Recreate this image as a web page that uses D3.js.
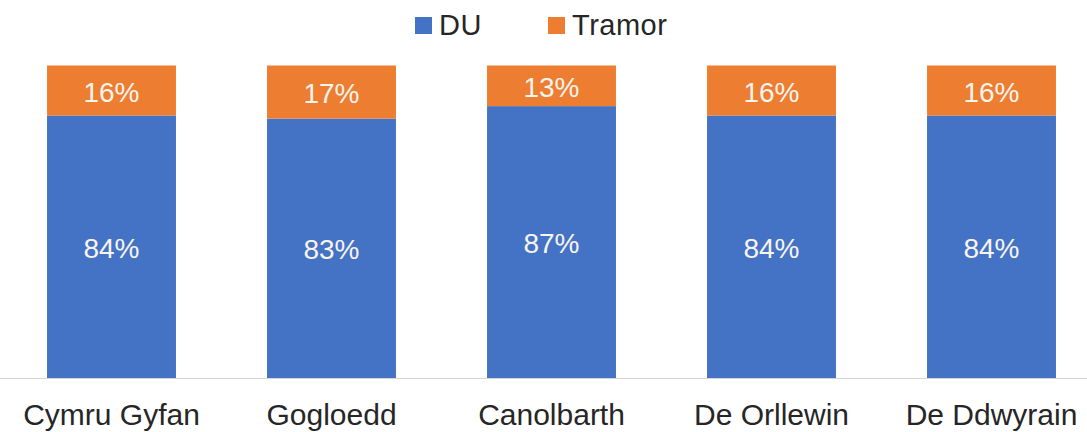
<!DOCTYPE html>
<html>
<head>
<meta charset="utf-8">
<script src="https://cdn.jsdelivr.net/npm/d3@7"></script>
<style>
  html, body { margin: 0; padding: 0; background: #fff; }
  svg { display: block; font-family: "Liberation Sans", Arial, sans-serif; }
</style>
</head>
<body>
<div id="chart"></div>
<script>
// Chart data
const categories = ["Cymru Gyfan", "Gogloedd", "Canolbarth", "De Orllewin", "De Ddwyrain"];
const seriesNames = ["DU", "Tramor"];
const duValues = [84, 83, 87, 84, 84];
const tramorValues = [16, 17, 13, 16, 16];
const colors = ["#4472C4", "#ED7D31"];

const W = 1087, H = 432;
const plot = { left: 1.5, right: 1101.5, top: 65.5, bottom: 378 };

const svg = d3.select("#chart").append("svg")
    .attr("width", W).attr("height", H);

const rows = categories.map((c, i) => ({ cat: c, DU: duValues[i], Tramor: tramorValues[i] }));
const stacked = d3.stack().keys(seriesNames)(rows);

const x = d3.scaleBand()
    .domain(categories)
    .range([plot.left, plot.right])
    .paddingInner(0.414)
    .paddingOuter(0.207);

const y = d3.scaleLinear()
    .domain([0, 100])
    .range([plot.bottom, plot.top]);

// Bars
stacked.forEach((layer, si) => {
    svg.append("g").selectAll("rect")
        .data(layer)
        .join("rect")
        .attr("x", d => x(d.data.cat))
        .attr("width", x.bandwidth())
        .attr("y", d => y(d[1]))
        .attr("height", d => y(d[0]) - y(d[1]))
        .attr("fill", colors[si]);

    // value labels
    svg.append("g").selectAll("text")
        .data(layer)
        .join("text")
        .attr("x", d => x(d.data.cat) + x.bandwidth() / 2)
        .attr("y", d => (y(d[0]) + y(d[1])) / 2 + 11)
        .attr("text-anchor", "middle")
        .attr("fill", "#f8f4ee")
        .attr("font-size", "28px")
        .text(d => (d[1] - d[0]) + "%");
});

// Category axis
const xAxis = svg.append("g")
    .attr("transform", `translate(0,${plot.bottom})`)
    .call(d3.axisBottom(x).tickSize(0).tickPadding(26));
xAxis.select(".domain").remove();
xAxis.selectAll("text")
    .attr("font-size", "30px")
    .attr("fill", "#262626")
    .attr("font-family", "Liberation Sans, Arial, sans-serif");

svg.append("line")
    .attr("x1", 0).attr("x2", W)
    .attr("y1", plot.bottom + 0.5).attr("y2", plot.bottom + 0.5)
    .attr("stroke", "#d4d4d4").attr("stroke-width", 1.2);

// Legend
const legendItems = [
    { name: seriesNames[0], x: 415 },
    { name: seriesNames[1], x: 548 }
];
const lg = svg.append("g");
legendItems.forEach((it, i) => {
    lg.append("rect")
        .attr("x", it.x).attr("y", 17)
        .attr("width", 17).attr("height", 17)
        .attr("fill", colors[i]);
    lg.append("text")
        .attr("x", it.x + 24).attr("y", 35)
        .attr("font-size", "29px")
        .attr("letter-spacing", "0.5px")
        .attr("fill", "#262626")
        .text(it.name);
});
</script>
</body>
</html>
